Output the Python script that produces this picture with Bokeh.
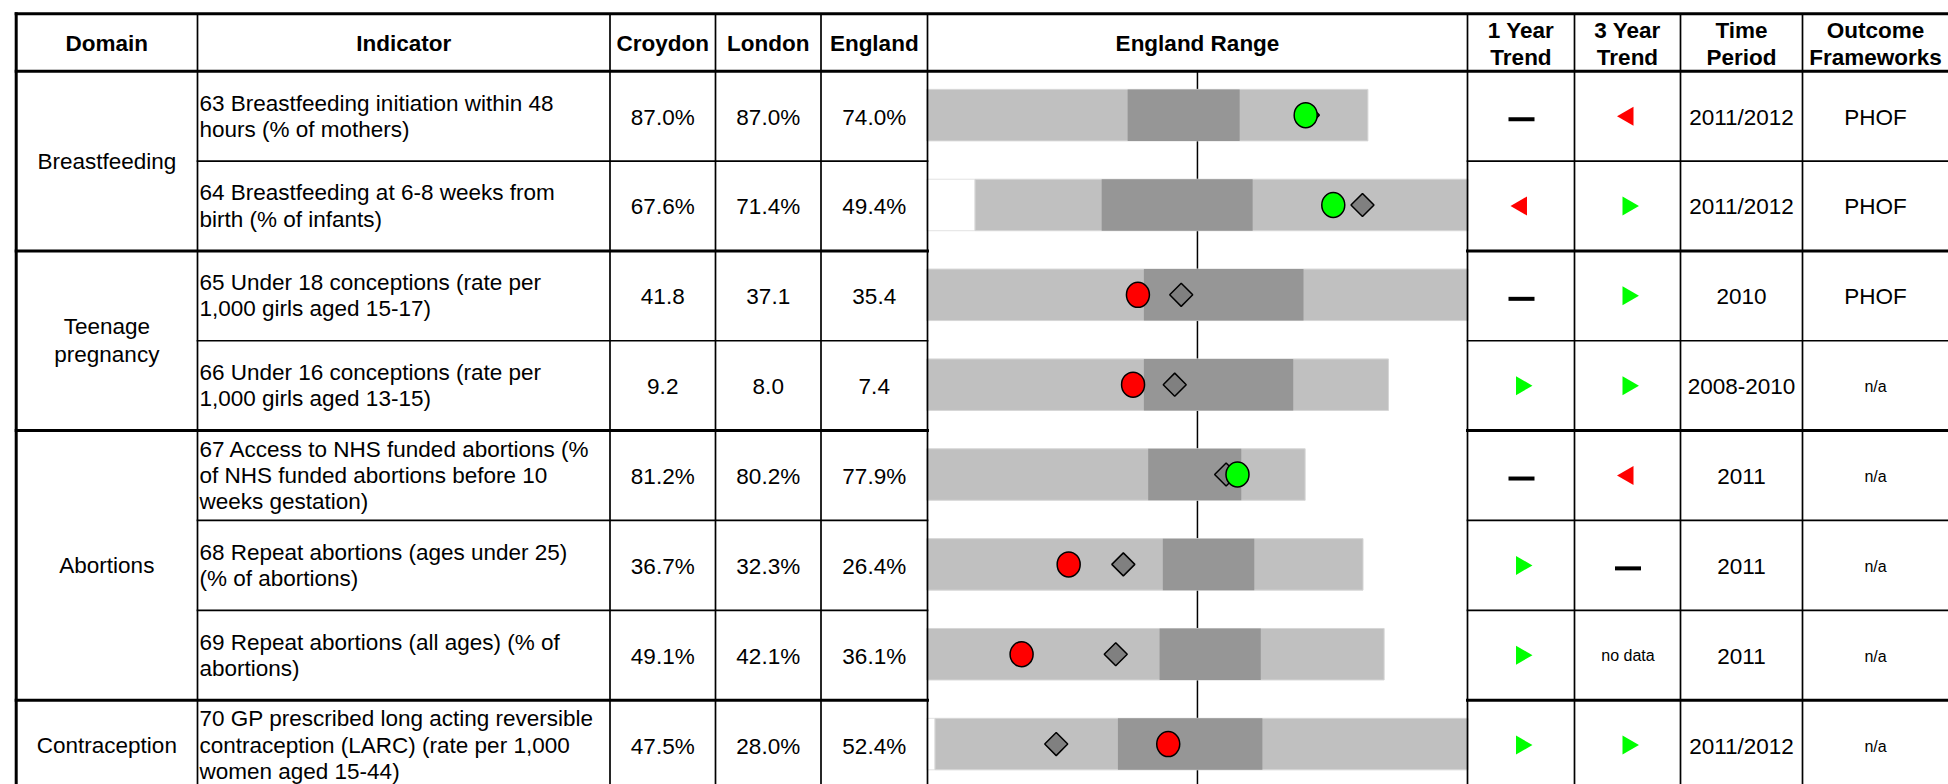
import math
from bokeh.plotting import figure
from bokeh.models import Range1d, ColumnDataSource
from bokeh.core.properties import value
from bokeh.embed import file_html
from bokeh.resources import INLINE

# ---------------- data ----------------
headers = ["Domain", "Indicator", "Croydon", "London", "England", "England Range",
           "1 Year\nTrend", "3 Year\nTrend", "Time\nPeriod", "Outcome\nFrameworks"]

domains = ["Breastfeeding", "Teenage\npregnancy", "Abortions", "Contraception"]
domain_rows = [2, 2, 3, 1]

indicators = [
    "63 Breastfeeding initiation within 48\nhours (% of mothers)",
    "64 Breastfeeding at 6-8 weeks from\nbirth (% of infants)",
    "65 Under 18 conceptions (rate per\n1,000 girls aged 15-17)",
    "66 Under 16 conceptions (rate per\n1,000 girls aged 13-15)",
    "67 Access to NHS funded abortions (%\nof NHS funded abortions before 10\nweeks gestation)",
    "68 Repeat abortions (ages under 25)\n(% of abortions)",
    "69 Repeat abortions (all ages) (% of\nabortions)",
    "70 GP prescribed long acting reversible\ncontraception (LARC) (rate per 1,000\nwomen aged 15-44)",
]
croydon = ["87.0%", "67.6%", "41.8", "9.2", "81.2%", "36.7%", "49.1%", "47.5%"]
london = ["87.0%", "71.4%", "37.1", "8.0", "80.2%", "32.3%", "42.1%", "28.0%"]
england = ["74.0%", "49.4%", "35.4", "7.4", "77.9%", "26.4%", "36.1%", "52.4%"]

# England range spine, scaled 0-100 with the England average at 50
range_low = [0.0, 8.9, 0.0, 0.0, 0.0, 0.0, 0.0, 1.5]
range_q1 = [37.1, 32.3, 40.1, 40.1, 40.9, 43.6, 43.0, 35.3]
range_q3 = [57.8, 60.2, 69.6, 67.7, 58.1, 60.5, 61.7, 62.0]
range_high = [81.5, 100.0, 100.0, 85.3, 69.9, 80.6, 84.5, 100.0]
england_avg = 50.0
croydon_pos = [70.0, 75.1, 39.0, 38.1, 57.4, 26.2, 17.5, 44.6]
london_pos = [70.4, 80.5, 47.0, 45.8, 55.3, 36.3, 34.9, 23.9]
croydon_sig = ["better", "better", "worse", "worse", "better", "worse", "worse", "worse"]

trend_1yr = ["same", "worse", "same", "better", "same", "better", "better", "better"]
trend_3yr = ["worse", "better", "better", "better", "worse", "same", "no data", "better"]
time_period = ["2011/2012", "2011/2012", "2010", "2008-2010", "2011", "2011", "2011", "2011/2012"]
outcome = ["PHOF", "PHOF", "PHOF", "n/a", "n/a", "n/a", "n/a", "n/a"]

# ---------------- layout (page pixels) ----------------
W, H = 1948, 784
OX, OY = 0, 0
col_x = [15.7, 197, 609.5, 715, 820.5, 927, 1467, 1574, 1680, 1802, 1950]
top_y = 13.3
head_y = 70.7
row_h = 89.85
n = len(indicators)
row_top = [head_y + i * row_h for i in range(n + 1)]
row_mid = [(row_top[i] + row_top[i + 1]) / 2 for i in range(n)]
bottom_y = row_top[-1]
THICK, THIN = 3, 1.7
FS = "22.5px"

FONT = value("Liberation Sans")

p = figure(width=W, height=H, x_range=Range1d(OX, OX + W), y_range=Range1d(OY + H, OY),
           output_backend="svg", toolbar_location=None, min_border=0,
           x_axis_location=None, y_axis_location=None, background_fill_color="white")
p.grid.visible = False
p.outline_line_color = None

# spine scale: 0 -> range column left, 100 -> range column right
sp0, sp1 = col_x[5] - 0.6, col_x[6] + 0.5
pxu = (sp1 - sp0) / 100.0
p.extra_x_ranges = {"spine": Range1d((OX - sp0) / pxu, (OX + W - sp0) / pxu)}

# centre (England average) line
p.segment(x0=[england_avg], y0=[head_y], x1=[england_avg], y1=[bottom_y],
          x_range_name="spine", line_color="black", line_width=1.5)

# bars
src = ColumnDataSource(dict(y=[m - 1 for m in row_mid], low=range_low, q1=range_q1,
                            q3=range_q3, high=range_high, zero=[0.0] * n))
p.hbar(y="y", left="zero", right="low", height=51.5, source=src, x_range_name="spine",
       fill_color="white", line_color="#e2e2e2", line_width=1)
p.hbar(y="y", left="low", right="high", height=51.5, source=src, x_range_name="spine",
       fill_color="#c0c0c0", line_color="#d6d6d6", line_width=1)
p.hbar(y="y", left="q1", right="q3", height=51.5, source=src, x_range_name="spine",
       fill_color="#969696", line_color=None)

# London diamonds, Croydon circles
p.scatter(x=london_pos, y=[m - 1 for m in row_mid], marker="square", size=16.3,
          angle=math.pi / 4, x_range_name="spine", fill_color="#808080",
          line_color="black", line_width=1.5)
sig_col = {"better": "#00ff00", "worse": "#ff0000", "similar": "#ffcc00"}
p.ellipse(x=croydon_pos, y=[m - 1 for m in row_mid], width=23, height=25,
          width_units="screen", height_units="screen", x_range_name="spine",
          fill_color=[sig_col[s] for s in croydon_sig], line_color="black", line_width=1.5)

# grid lines
segs = []  # (x0, y0, x1, y1, width)
segs.append((col_x[0], top_y, col_x[-1], top_y, THICK))
segs.append((col_x[0], head_y, col_x[-1], head_y, THICK))
group_end = []
acc = 0
for k in domain_rows:
    acc += k
    group_end.append(acc)
for i in range(1, n + 1):
    y = row_top[i]
    if i in group_end:
        segs.append((col_x[0], y, col_x[5], y, THICK))
        segs.append((col_x[6], y, col_x[-1], y, THICK))
    else:
        segs.append((col_x[1], y, col_x[5], y, THIN))
        segs.append((col_x[6], y, col_x[-1], y, THIN))
for j, x in enumerate(col_x[:-1]):
    segs.append((x, top_y, x, bottom_y + 10, THICK if j == 0 else THIN))
p.segment(x0=[s[0] for s in segs], y0=[s[1] for s in segs], x1=[s[2] for s in segs],
          y1=[s[3] for s in segs], line_width=[s[4] for s in segs], line_color="black",
          line_cap="square")

# header texts
head_cx = [(col_x[j] + col_x[j + 1]) / 2 for j in range(10)]
head_cx[9] = 1875
p.text(x=head_cx, y=[(top_y + head_y) / 2 + 1] * 10, text=headers, text_font=FONT,
       text_font_size=FS, text_font_style="bold", text_align="center",
       text_baseline="middle", text_line_height=1.08)

# domain texts
dy = []
start = 0
for k in domain_rows:
    dy.append((row_top[start] + row_top[start + k]) / 2)
    start += k
p.text(x=[head_cx[0]] * len(domains), y=dy, text=domains, text_font=FONT,
       text_font_size=FS, text_align="center", text_baseline="middle",
       text_line_height=1.12)

# indicator texts
p.text(x=[col_x[1] + 2] * n, y=row_mid, text=indicators, text_font=FONT,
       text_font_size=FS, text_align="left", text_baseline="middle",
       text_line_height=1.05)

# values
for j, vals in ((2, croydon), (3, london), (4, england), (8, time_period)):
    p.text(x=[head_cx[j]] * n, y=[m + 1 for m in row_mid], text=vals, text_font=FONT,
           text_font_size=FS, text_align="center", text_baseline="middle")
p.text(x=[head_cx[9]] * n, y=[m + 1 for m in row_mid], text=outcome, text_font=FONT,
       text_font_size=[FS if o != "n/a" else "16px" for o in outcome],
       text_align="center", text_baseline="middle")

# trends
for j, tr in ((6, trend_1yr), (7, trend_3yr)):
    cx = head_cx[j] + 0.5
    up = [row_mid[i] for i in range(n) if tr[i] == "better"]
    dn = [row_mid[i] for i in range(n) if tr[i] == "worse"]
    sm = [row_mid[i] for i in range(n) if tr[i] == "same"]
    nd = [row_mid[i] for i in range(n) if tr[i] == "no data"]
    if up:
        p.scatter(x=[cx] * len(up), y=up, marker="triangle", size=19, angle=-math.pi / 2,
                  fill_color="#00ff00", line_color=None)
    if dn:
        p.scatter(x=[cx] * len(dn), y=dn, marker="triangle", size=19, angle=math.pi / 2,
                  fill_color="#ff0000", line_color=None)
    if sm:
        p.rect(x=[cx] * len(sm), y=[v + 3 for v in sm], width=26, height=4,
               width_units="screen", height_units="screen", fill_color="black", line_color=None)
    if nd:
        p.text(x=[cx] * len(nd), y=nd, text=["no data"] * len(nd), text_font=FONT,
               text_font_size="16px", text_align="center", text_baseline="middle")

open("out.html", "w").write(file_html(p, INLINE))
